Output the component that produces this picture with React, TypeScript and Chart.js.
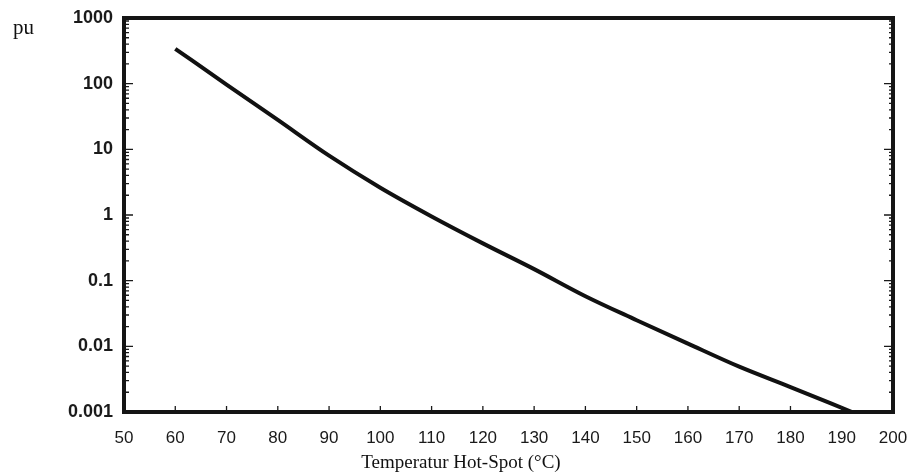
import React, { useEffect, useRef } from "react";
import { Chart, registerables } from "chart.js";

Chart.register(...registerables);

// Hot-spot temperature (°C) and per-unit life
const temperatures = [60, 70, 80, 90, 100, 110, 120, 130, 140, 150, 160, 170, 180, 192];
const perUnitLife = [340, 97, 28, 8.0, 2.6, 0.95, 0.37, 0.15, 0.058, 0.025, 0.011, 0.0049, 0.0024, 0.001];

const xTickValues = [50, 60, 70, 80, 90, 100, 110, 120, 130, 140, 150, 160, 170, 180, 190, 200];
const xTickLabels = ["50", "60", "70", "80", "90", "100", "110", "120", "130", "140", "150", "160", "170", "180", "190", "200"];
const yTickValues = [0.001, 0.01, 0.1, 1, 10, 100, 1000];
const yTickLabels = ["0.001", "0.01", "0.1", "1", "10", "100", "1000"];
const minorMultipliers = [2, 3, 4, 5, 6, 7, 8, 9];

const xTitle = "Temperatur Hot-Spot (°C)";
const yUnit = "pu";

const framePlugin = {
  id: "frameAndTicks",
  afterDraw(chart: any) {
    const { ctx, chartArea, scales } = chart;
    const { left, right, top, bottom } = chartArea;
    const x = scales.x;
    const y = scales.y;
    ctx.save();
    ctx.strokeStyle = "#1a1a1a";
    ctx.lineWidth = 1.3;
    ctx.beginPath();
    xTickValues.forEach((v) => {
      const px = x.getPixelForValue(v);
      ctx.moveTo(px, bottom);
      ctx.lineTo(px, bottom - 6);
    });
    yTickValues.forEach((v, i) => {
      const py = y.getPixelForValue(v);
      ctx.moveTo(left, py);
      ctx.lineTo(left + 9, py);
      ctx.moveTo(right, py);
      ctx.lineTo(right - 9, py);
      if (i < yTickValues.length - 1) {
        minorMultipliers.forEach((m) => {
          const pm = y.getPixelForValue(v * m);
          ctx.moveTo(left, pm);
          ctx.lineTo(left + 5, pm);
          ctx.moveTo(right, pm);
          ctx.lineTo(right - 4, pm);
        });
      }
    });
    ctx.stroke();
    ctx.lineWidth = 4;
    ctx.strokeStyle = "#151515";
    ctx.strokeRect(left, top, right - left, bottom - top);

    ctx.fillStyle = "#111";
    ctx.font = "21px 'Liberation Serif', serif";
    ctx.textAlign = "left";
    ctx.textBaseline = "alphabetic";
    ctx.fillText(yUnit, 13, 34);

    ctx.textAlign = "center";
    ctx.textBaseline = "middle";
    ctx.font = "19px 'Liberation Serif', serif";
    ctx.fillText(xTitle, 461, 463);
    ctx.restore();
  },
};

export default function App() {
  const canvasRef = useRef<HTMLCanvasElement | null>(null);

  useEffect(() => {
    if (!canvasRef.current) return;
    const chart = new Chart(canvasRef.current, {
      type: "line",
      data: {
        datasets: [
          {
            data: temperatures.map((t, i) => ({ x: t, y: perUnitLife[i] })),
            borderColor: "#111",
            borderWidth: 4,
            pointRadius: 0,
            cubicInterpolationMode: "monotone",
            fill: false,
          },
        ],
      },
      options: {
        animation: false,
        responsive: true,
        maintainAspectRatio: false,
        layout: { padding: { left: 0, right: 14, top: 18, bottom: 0 } },
        plugins: {
          legend: { display: false },
          tooltip: { enabled: false },
          title: { display: false },
        },
        scales: {
          x: {
            type: "linear",
            min: 50,
            max: 200,
            grid: { display: false },
            border: { display: false },
            afterBuildTicks: (s: any) => {
              s.ticks = xTickValues.map((v) => ({ value: v }));
            },
            afterFit: (s: any) => {
              s.height = 64;
              s.paddingLeft = 0;
              s.paddingRight = 0;
            },
            ticks: {
              autoSkip: false,
              maxRotation: 0,
              padding: 8,
              color: "#1a1a1a",
              font: { family: "'Liberation Sans', Arial, sans-serif", size: 17 },
              callback: (v: any) => {
                const i = xTickValues.indexOf(Number(v));
                return i >= 0 ? xTickLabels[i] : "";
              },
            },
          },
          y: {
            type: "logarithmic",
            min: 0.001,
            max: 1000,
            grid: { display: false },
            border: { display: false },
            afterBuildTicks: (s: any) => {
              s.ticks = yTickValues.map((v) => ({ value: v, major: true }));
            },
            afterFit: (s: any) => {
              s.width = 124;
            },
            ticks: {
              autoSkip: false,
              padding: 3,
              color: "#1a1a1a",
              font: { family: "'Liberation Sans', Arial, sans-serif", size: 18, weight: "bold" },
              callback: (v: any) => {
                const i = yTickValues.findIndex((t) => Math.abs(t - Number(v)) < t * 1e-6);
                return i >= 0 ? yTickLabels[i] : "";
              },
            },
          },
        },
      },
      plugins: [framePlugin],
    } as any);
    return () => chart.destroy();
  }, []);

  return (
    <div style={{ position: "absolute", left: 0, top: 0, width: 907, height: 476, background: "#fff" }}>
      <canvas ref={canvasRef} />
    </div>
  );
}
